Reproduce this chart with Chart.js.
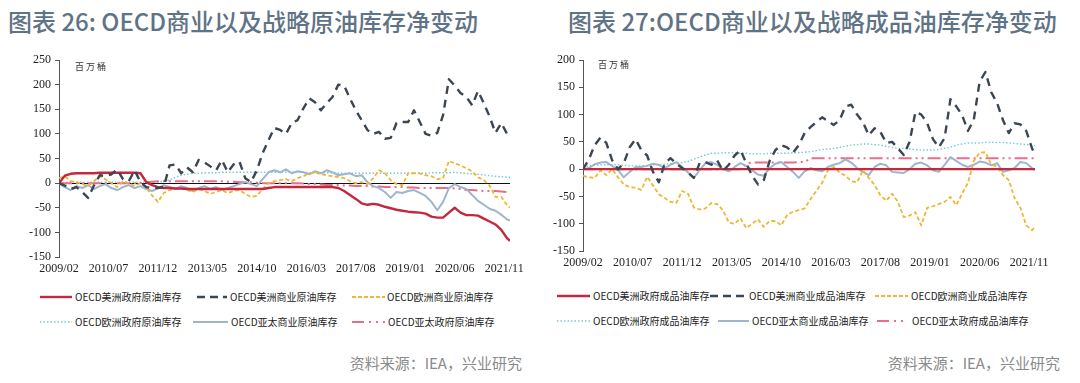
<!DOCTYPE html>
<html><head><meta charset="utf-8">
<script src="https://cdn.jsdelivr.net/npm/chart.js@4.4.0/dist/chart.umd.min.js"></script>
<style>
body{margin:0;width:1080px;height:383px;background:#fff;position:relative;overflow:hidden;font-family:"Noto Sans CJK SC",sans-serif;}
.title{position:absolute;top:3px;font-size:24px;color:#5f7386;font-weight:500;white-space:nowrap;}
canvas{position:absolute;}
.unit{position:absolute;font-size:9px;color:#333;letter-spacing:2px;white-space:nowrap;}
.item{position:absolute;display:flex;align-items:center;white-space:nowrap;font-size:10px;color:#222;height:12px;}
.item svg{display:block;}
.src{position:absolute;font-size:15px;color:#8a8a8a;white-space:nowrap;}
</style></head>
<body>
<div class="title" style="left:8px">图表 26: OECD商业以及战略原油库存净变动</div>
<div class="title" style="left:568px">图表 27:OECD商业以及战略成品油库存净变动</div>
<canvas id="c1" width="540" height="240" style="left:0;top:45px"></canvas>
<canvas id="c2" width="540" height="234" style="left:540px;top:45px"></canvas>
<div class="unit" style="left:75px;top:60px">百万桶</div>
<div class="unit" style="left:598px;top:58px">百万桶</div>
<div id="legend"></div>
<div class="src" style="right:558px;top:352px">资料来源：IEA，兴业研究</div>
<div class="src" style="right:20px;top:352px">资料来源：IEA，兴业研究</div>
<script>
// Category axis: months since 2009/02
const tickMonths = [0,17,34,51,68,85,102,119,136,153];
const tickLabels = ['2009/02','2010/07','2011/12','2013/05','2014/10','2016/03','2017/08','2019/01','2020/06','2021/11'];
const sampleMonths = [];
for (let m = 0; m <= 154; m += 2) sampleMonths.push(m);
sampleMonths.push(155); // 2022/01

// ---- Figure 26: crude (million barrels) ----
const crudeAmGov = [0,15,19,20,20,20,20,21,21,21,
 21,21,21,21,20,2,-4,-8,-10,-10,
 -11,-11,-12,-12,-12,-12,-12,-12,-12,-12,
 -12,-12,-12,-12,-12,-12,-10,-8,-8,-8,
 -8,-8,-8,-8,-8,-8,-8,-8,-10,-16,
 -24,-32,-41,-44,-42,-44,-48,-51,-54,-56,
 -58,-59,-60,-62,-68,-70,-70,-60,-50,-60,
 -65,-65,-66,-72,-78,-84,-95,-112,-117];
const crudeAmCom = [0,-5,-12,-8,-18,-30,-5,16,14,18,
 28,8,4,26,2,-8,-10,-10,-8,36,
 38,20,32,22,47,42,34,26,47,22,
 38,44,10,2,26,61,87,112,108,100,
 122,128,152,172,164,148,162,175,200,198,
 172,148,128,108,100,104,90,92,122,124,
 124,148,124,100,96,102,138,211,198,183,
 175,158,187,162,135,102,122,100,95];
const crudeEuCom = [10,14,4,2,-2,-6,4,14,8,0,
 -8,4,0,-6,0,-10,-25,-38,-20,-14,
 -12,-10,-14,-18,-12,-16,-22,-18,-14,-20,
 -16,-14,-22,-28,-26,-12,0,4,6,8,
 4,10,14,20,22,18,16,14,12,10,
 4,0,2,-2,10,26,20,6,-2,-4,
 20,20,20,16,14,8,10,45,40,36,
 30,24,12,6,-5,-28,-28,-45,-50];
const crudeEuGov = [0,1,2,2,2,2,2,2,2,2,
 2,2,2,2,2,2,2,2,4,6,
 12,16,18,20,20,21,21,21,22,22,
 22,22,22,22,22,22,22,22,22,22,
 22,22,22,21,21,21,21,21,20,20,
 20,20,20,20,20,20,20,20,20,20,
 20,20,20,20,21,21,21,21,22,21,
 20,19,18,17,15,14,13,12,12];
const crudeApCom = [0,-8,-14,-6,-10,-4,-12,-6,-2,-10,
 -14,-8,-4,-10,-6,-12,-16,-10,-4,-8,
 -12,-6,-10,-16,-10,-6,-12,-8,-14,-10,
 -6,-2,2,-2,-6,8,22,26,22,28,
 20,24,22,18,24,20,26,22,16,18,
 20,14,16,2,-6,-10,-18,-30,-18,-20,
 -16,-14,-20,-26,-38,-55,-38,-10,-2,-8,
 -12,-24,-36,-44,-52,-56,-64,-74,-76];
const crudeApGov = [0,0,0,0,0,0,0,0,0,0,
 0,0,0,0,0,2,3,4,4,4,
 4,4,4,4,4,4,4,4,4,3,
 3,2,2,2,1,0,0,0,0,0,
 0,0,-1,-2,-2,-3,-4,-4,-4,-5,
 -5,-6,-6,-6,-7,-7,-8,-8,-8,-8,
 -9,-9,-10,-10,-10,-10,-10,-10,-11,-12,
 -14,-14,-15,-16,-16,-16,-17,-18,-18];

// ---- Figure 27: products (million barrels) ----
const prodAmGov = [0,0,0,0,0,0,0,0,0,0,
 0,0,0,0,0,0,0,0,0,0,
 0,0,0,0,0,0,0,0,0,0,
 0,0,0,0,0,0,0,0,0,0,
 0,0,0,0,0,0,0,0,0,0,
 0,0,0,0,0,0,0,0,0,0,
 0,0,0,0,0,0,0,0,0,0,
 0,0,0,0,0,0,0,0,0];
const prodAmCom = [0,18,44,58,48,16,0,11,40,55,
 35,25,-5,-24,10,20,10,2,-6,-16,
 11,13,8,16,-3,8,25,35,11,-12,
 -28,-20,15,35,44,40,30,44,66,77,
 86,95,88,81,90,115,118,100,86,62,
 75,68,48,50,38,26,50,105,100,85,
 55,40,57,128,115,99,70,90,160,178,
 141,121,90,66,84,82,70,38,26];
const prodEuCom = [-12,-15,-16,-2,-11,0,-15,-28,-33,-34,
 -38,-14,-30,-46,-53,-60,-62,-40,-45,-70,
 -74,-72,-62,-64,-75,-98,-100,-90,-108,-100,
 -92,-106,-95,-95,-103,-84,-78,-75,-72,-55,
 -40,-25,-2,4,-6,-12,-22,-24,-2,-16,
 -29,-48,-58,-45,-60,-88,-85,-79,-103,-71,
 -68,-64,-60,-51,-66,-45,-25,15,30,31,
 8,5,-11,-20,-53,-71,-103,-112,-106];
const prodEuGov = [5,6,7,8,8,8,8,7,6,6,
 6,7,8,8,9,10,11,12,14,18,
 22,26,29,29,30,30,30,29,29,28,
 28,28,29,29,29,29,30,30,31,32,
 34,36,37,38,40,42,44,45,46,46,
 45,44,42,40,38,38,37,36,35,35,
 35,36,38,40,44,46,48,48,48,49,
 49,49,49,48,47,46,45,44,43];
const prodApCom = [0,2,9,12,13,6,-2,-15,-5,4,
 4,6,10,8,2,8,13,4,-6,-16,
 -2,11,13,8,0,-4,4,11,6,-2,
 -10,-12,2,10,13,4,-5,-16,-4,2,
 -2,-4,4,8,11,18,12,2,-5,-11,
 4,10,7,-5,-6,-7,0,10,12,7,
 -2,-5,8,22,15,8,4,8,14,12,
 7,11,-5,-2,2,13,11,2,-2];
const prodApGov = [0,0,0,0,0,0,0,0,0,0,
 0,0,0,0,0,0,0,0,0,0,
 0,0,0,0,0,0,0,0,10,12,
 12,12,12,12,12,12,12,13,13,20,
 20,20,20,20,20,20,20,20,20,20,
 20,20,20,20,20,20,20,20,20,20,
 20,20,20,20,20,20,20,20,20,20,
 20,20,20,20,20,20,20,20,20];

const crudeNames = ['OECD美洲政府原油库存','OECD美洲商业原油库存','OECD欧洲商业原油库存','OECD欧洲政府原油库存','OECD亚太商业原油库存','OECD亚太政府原油库存'];
const prodNames = ['OECD美洲政府成品油库存','OECD美洲商业成品油库存','OECD欧洲商业成品油库存','OECD欧洲政府成品油库存','OECD亚太商业成品油库存','OECD亚太政府成品油库存'];

const styles = [
  {color:'#c3283f', width:2.4, dash:[], order:1},
  {color:'#3b4654', width:2.4, dash:[8,6], order:0},
  {color:'#f0b535', width:1.8, dash:[4,2.5], order:2},
  {color:'#74c9db', width:1.4, dash:[1.5,2], order:5},
  {color:'#9cb7cc', width:2, dash:[], order:3},
  {color:'#e86d8a', width:2, dash:[13,4,2,4,2,4], order:4}
];

function toPoints(arr){ return sampleMonths.map((m,i)=>({x:m, y:arr[i]})); }

function makeChart(id, names, seriesArr, yMin, yMax, yWidth, padRight){
  new Chart(document.getElementById(id), {
    type:'line',
    data:{ datasets: seriesArr.map((s,i)=>({
      label:names[i], data:toPoints(s), borderColor:styles[i].color,
      borderWidth:styles[i].width, borderDash:styles[i].dash, pointRadius:0,
      tension:0, fill:false, order:styles[i].order, borderCapStyle:'butt', borderJoinStyle:'round'
    }))},
    options:{
      responsive:false, animation:false, devicePixelRatio:1,
      layout:{padding:{top:15,right:padRight,left:0,bottom:0}},
      plugins:{legend:{display:false}, tooltip:{enabled:false}},
      scales:{
        x:{type:'linear', min:0, max:155,
          afterBuildTicks:(ax)=>{ ax.ticks = tickMonths.map(v=>({value:v})); },
          afterFit:(ax)=>{ ax.height = 28; },
          grid:{display:false, drawTicks:false}, border:{display:false},
          ticks:{autoSkip:false, maxRotation:0, padding:5, color:'#222',
            font:{family:'"Liberation Serif"', size:12},
            callback:(v)=>{ const k = tickMonths.indexOf(v); return k>=0 ? tickLabels[k] : ''; }}
        },
        y:{min:yMin, max:yMax,
          afterFit:(ax)=>{ ax.width = yWidth; },
          border:{display:true, color:'#555', width:1},
          grid:{drawOnChartArea:true, drawTicks:true, tickLength:4, tickColor:'#555',
            color:(c)=> (c.tick && c.tick.value===0) ? '#111' : 'rgba(0,0,0,0)', lineWidth:1},
          ticks:{stepSize:50, padding:4, color:'#222', font:{family:'"Liberation Serif"', size:12}}
        }
      }
    }
  });
}

makeChart('c1', crudeNames, [crudeAmGov,crudeAmCom,crudeEuCom,crudeEuGov,crudeApCom,crudeApGov], -150, 250, 59, 30);
makeChart('c2', prodNames, [prodAmGov,prodAmCom,prodEuCom,prodEuGov,prodApCom,prodApGov], -150, 200, 43, 45);

// HTML legends
const legendPos = [
  // left
  [[40,297,32,75],[197,297,30,230],[352,297,33,387],[40,322,32,75],[193,322,35,231],[352,322,33,388]],
  // right
  [[557,296,33,593],[710,296,36,749],[875,296,33,911],[557,321,33,593],[718,321,31,752],[877,321,31,912]]
];
const legendDash = [[], [8,5], [4,2], [1.5,2], [], [12,5,2,5,2,5]];
const leg = document.getElementById('legend');
[crudeNames, prodNames].forEach((names, g)=>{
  names.forEach((n,i)=>{
    const [lx,ly,len,tx] = legendPos[g][i];
    const sv = document.createElementNS('http://www.w3.org/2000/svg','svg');
    sv.setAttribute('width',len); sv.setAttribute('height',6);
    sv.style.position='absolute'; sv.style.left=lx+'px'; sv.style.top=(ly-3)+'px';
    const ln = document.createElementNS('http://www.w3.org/2000/svg','line');
    ln.setAttribute('x1',0); ln.setAttribute('y1',3); ln.setAttribute('x2',len); ln.setAttribute('y2',3);
    ln.setAttribute('stroke',styles[i].color); ln.setAttribute('stroke-width',styles[i].width);
    if (legendDash[i].length) ln.setAttribute('stroke-dasharray',legendDash[i].join(' '));
    sv.appendChild(ln); leg.appendChild(sv);
    const t = document.createElement('div');
    t.className='item'; t.style.left=tx+'px'; t.style.top=(ly-7)+'px'; t.textContent=n;
    leg.appendChild(t);
  });
});
</script>
</body></html>
